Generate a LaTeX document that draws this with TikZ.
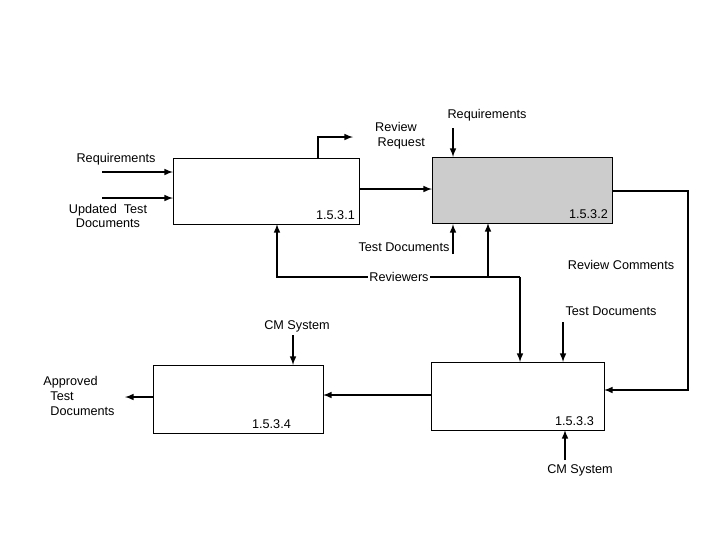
\documentclass[tikz,border=0pt]{standalone}
\usepackage{fontspec}
\setmainfont{Liberation Sans}
\usetikzlibrary{positioning, calc, arrows}

\begin{document}
\begin{tikzpicture}[x=0.75pt, y=-0.75pt, font=\fontsize{9.5}{11}\selectfont,
	box/.style={draw, thin, anchor=north west, inner sep=0pt},
	flow/.style={->, >=latex, very thick},
	lbl/.style={inner sep=1pt, align=center}]
		\useasboundingbox (0,0) rectangle (720,540);
		% boxes
		\node[box, minimum width=0.75*186pt, minimum height=0.75*66pt] at (173,158) (p1) {};
		\node[box, minimum width=0.75*180pt, minimum height=0.75*66pt, fill=gray!40] at (432,157) (p2) {};
		\node[box, minimum width=0.75*173pt, minimum height=0.75*68pt] at (431,362) (p3) {};
		\node[box, minimum width=0.75*170pt, minimum height=0.75*68pt] at (153,365) (p4) {};
		\node[anchor=south east] at (p1.south east) {1.5.3.1};
		\node[anchor=south east] at (p2.south east) {1.5.3.2};
		\node[anchor=south east] at ($(p3.south east)+(-6,0)$) {1.5.3.3};
		\node[anchor=south east] at ($(p4.south east)+(-28,0)$) {1.5.3.4};
		% labels
		\node[lbl] at (116,159) (req1) {Requirements};
		\node[lbl] at (108,216) (upd) {Updated\ \ Test\\Documents};
		\node[lbl] at (396,136) (rr) {Review\\\ \ \ Request};
		\node[lbl] at (487,115) (req2) {Requirements};
		\node[lbl] at (404,247) (td1) {Test Documents};
		\node[lbl] at (399,277) (rv) {Reviewers};
		\node[lbl] at (621,265) (rc) {Review Comments};
		\node[lbl] at (611,311) (td2) {Test Documents};
		\node[lbl] at (297,326) (cm1) {CM System};
		\node[lbl] at (580,470) (cm2) {CM System};
		\node[lbl, align=left] at (79,396) (app) {Approved\\\ \ Test\\\ \ Documents};
		% connectors
		\coordinate (a1) at (102,172);
		\coordinate (a2) at (102,198);
		\draw[flow] (a1) -- (a1 -| p1.west);
		\draw[flow] (a2) -- (a2 -| p1.west);
		\draw[flow] (318,158) |- (353,137);
		\draw[flow] (359,189) -- (432,189);
		\draw[flow] (453,128) -- (453,157);
		\draw[flow] (453,254) -- (453,224);
		\draw[flow] (rv.west) -| (277,224);
		\draw[very thick] (rv.east) -- (520,277);
		\draw[flow] (488,277) -- (488,223);
		\draw[flow] (520,277) -- (520,362);
		\draw[flow] (563,322) -- (563,362);
		\draw[flow] (612,191) -- (688,191) |- (604,390);
		\draw[flow] (293,335) -- (293,365);
		\draw[flow] (565,460) -- (565,430);
		\draw[flow] (431,395) -- (323,395);
		\draw[flow] (153,397) -- (125,397);
	\end{tikzpicture}
\end{document}
